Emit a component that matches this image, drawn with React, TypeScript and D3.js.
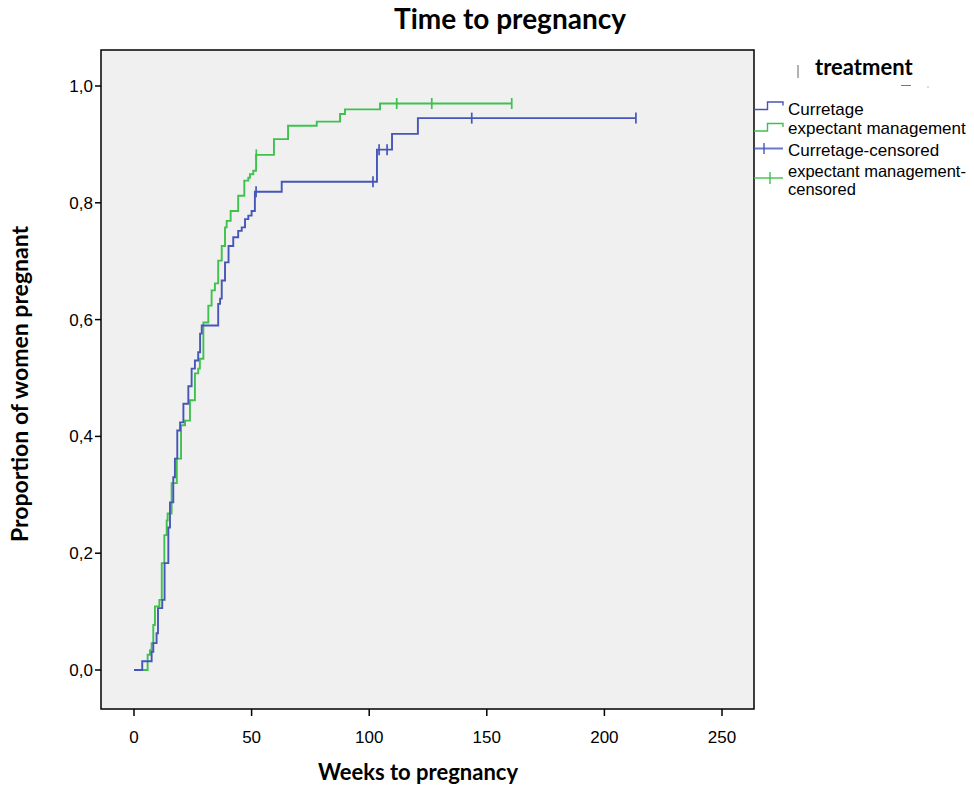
import * as d3 from 'd3';

// Kaplan-Meier steps: [weeks, cumulative proportion pregnant]
const curettageSteps: [number, number][] = [
  [0, 0], [3.5, 0.015], [7.5, 0.031], [8.2, 0.046], [9.6, 0.063], [10.2, 0.106],
  [12.0, 0.12], [13.0, 0.183], [14.6, 0.244], [15.3, 0.287], [16.7, 0.33],
  [17.4, 0.362], [18.4, 0.41], [19.6, 0.424], [21.0, 0.456], [23.1, 0.486],
  [24.5, 0.516], [25.9, 0.53], [27.3, 0.544], [28.1, 0.576], [28.8, 0.59],
  [35.8, 0.627], [36.6, 0.636], [37.3, 0.667], [38.7, 0.698], [40.2, 0.726],
  [42.2, 0.741], [44.3, 0.752], [45.8, 0.758], [47.2, 0.772], [48.6, 0.778],
  [50.0, 0.786], [51.4, 0.819], [62.8, 0.836], [103.3, 0.891], [109.7, 0.918],
  [120.7, 0.945], [213.4, 0.945],
];
const curettageCensored: [number, number][] = [
  [51.9, 0.819], [101.6, 0.836], [104.2, 0.891], [107.6, 0.891], [143.6, 0.945], [213.4, 0.945],
];

const expectantSteps: [number, number][] = [
  [0, 0], [5.8, 0.026], [6.8, 0.034], [7.5, 0.046], [8.2, 0.077], [8.9, 0.109],
  [10.8, 0.12], [11.8, 0.183], [12.9, 0.231], [13.9, 0.256], [14.3, 0.268],
  [16.0, 0.32], [18.2, 0.362], [20.0, 0.419], [21.7, 0.427], [23.8, 0.462],
  [25.9, 0.508], [27.3, 0.516], [28.0, 0.533], [29.5, 0.595], [31.6, 0.624],
  [33.0, 0.65], [34.4, 0.662], [35.8, 0.701], [37.3, 0.726], [38.7, 0.758],
  [39.4, 0.769], [41.1, 0.786], [44.3, 0.812], [46.9, 0.838], [48.6, 0.843],
  [49.3, 0.849], [50.7, 0.855], [51.9, 0.882], [59.5, 0.909], [65.5, 0.932],
  [77.7, 0.939], [87.6, 0.952], [89.7, 0.96], [104.6, 0.97], [160.6, 0.97],
];
const expectantCensored: [number, number][] = [
  [52.0, 0.882], [111.7, 0.97], [126.6, 0.97], [160.6, 0.97],
];

const xTicks = [0, 50, 100, 150, 200, 250];
const yTicks = [0, 0.2, 0.4, 0.6, 0.8, 1.0];
const legendItems = ['Curretage', 'expectant management', 'Curretage-censored', 'expectant management-', 'censored'];

const blue = '#4656b8';
const green = '#3fc14d';

export default function App() {
  const plot = { left: 101, right: 754, top: 50, bottom: 709 };
  const x = d3.scaleLinear().domain([0, 250]).range([134, 722]);
  const y = d3.scaleLinear().domain([0, 1]).range([670, 86]);

  const line = d3.line<[number, number]>()
    .x((d) => x(d[0]))
    .y((d) => y(d[1]))
    .curve(d3.curveStepAfter);

  const tickFont = '"Liberation Sans", Arial, sans-serif';
  const boldFont = 'Lato, "Open Sans", sans-serif';

  const censorMarks = (pts: [number, number][], color: string) => pts.map((d, i) => (
    <line key={i} x1={x(d[0])} x2={x(d[0])} y1={y(d[1]) - 5.5} y2={y(d[1]) + 5.5}
      stroke={color} strokeWidth={1.7} />
  ));

  return (
    <svg width={974} height={786} style={{ position: 'absolute', left: 0, top: 0, background: '#fff' }}>
      <text x={510} y={29} textAnchor="middle" fontFamily={boldFont} fontWeight="bold" fontSize={28}>
        Time to pregnancy
      </text>

      <rect x={plot.left} y={plot.top} width={plot.right - plot.left} height={plot.bottom - plot.top}
        fill="#f0f0f0" stroke="#000" strokeWidth={1.5} />

      {yTicks.map((t) => (
        <g key={t}>
          <line x1={plot.left - 6} x2={plot.left} y1={y(t)} y2={y(t)} stroke="#000" strokeWidth={1.5} />
          <text x={plot.left - 8} y={y(t)} dy="0.35em" textAnchor="end" fontFamily={tickFont} fontSize={17}>
            {d3.format('.1f')(t).replace('.', ',')}
          </text>
        </g>
      ))}
      {xTicks.map((t) => (
        <g key={t}>
          <line x1={x(t)} x2={x(t)} y1={plot.bottom} y2={plot.bottom + 7} stroke="#000" strokeWidth={1.5} />
          <text x={x(t)} y={743} textAnchor="middle" fontFamily={tickFont} fontSize={17}>{t}</text>
        </g>
      ))}

      <path d={line(expectantSteps) ?? ''} fill="none" stroke={green} strokeWidth={1.9} />
      <path d={line(curettageSteps) ?? ''} fill="none" stroke={blue} strokeWidth={1.9} />
      {censorMarks(expectantCensored, green)}
      {censorMarks(curettageCensored, blue)}

      <text x={418} y={780} textAnchor="middle" fontFamily={boldFont} fontWeight="bold" fontSize={22}>
        Weeks to pregnancy
      </text>
      <text transform="translate(28,384) rotate(-90)" textAnchor="middle" fontFamily={boldFont}
        fontWeight="bold" fontSize={23}>
        Proportion of women pregnant
      </text>

      {/* legend */}
      <line x1={798} x2={798} y1={65} y2={78} stroke="#666" strokeWidth={1} />
      <text x={815} y={75} fontFamily={boldFont} fontWeight="bold" fontSize={22}>treatment</text>
      <line x1={901} x2={911} y1={85.5} y2={85.5} stroke="#777" strokeWidth={1} />
      <circle cx={928} cy={87} r={0.7} fill="#999" />

      <path d="M754,109.5H767.5V102H783V105.5" fill="none" stroke={blue} strokeWidth={1.4} />
      <text x={788} y={109} dy="0.35em" fontFamily={tickFont} fontSize={17}>{legendItems[0]}</text>
      <path d="M754,131H767.5V123.5H783V127" fill="none" stroke={green} strokeWidth={1.4} />
      <text x={788} y={128} dy="0.35em" fontFamily={tickFont} fontSize={17}>{legendItems[1]}</text>
      <line x1={754} x2={783} y1={148.5} y2={148.5} stroke={blue} strokeWidth={2} strokeOpacity={0.8} />
      <line x1={764} x2={764} y1={143} y2={154} stroke={blue} strokeWidth={1.4} />
      <text x={788} y={150} dy="0.35em" fontFamily={tickFont} fontSize={17}>{legendItems[2]}</text>
      <line x1={754} x2={783} y1={178} y2={178} stroke={green} strokeWidth={1.4} />
      <line x1={770} x2={770} y1={172} y2={184} stroke={green} strokeWidth={1.4} />
      <text x={788} y={171.5} dy="0.35em" fontFamily={tickFont} fontSize={16.5}>{legendItems[3]}</text>
      <text x={788} y={189.5} dy="0.35em" fontFamily={tickFont} fontSize={16.5}>{legendItems[4]}</text>
    </svg>
  );
}
